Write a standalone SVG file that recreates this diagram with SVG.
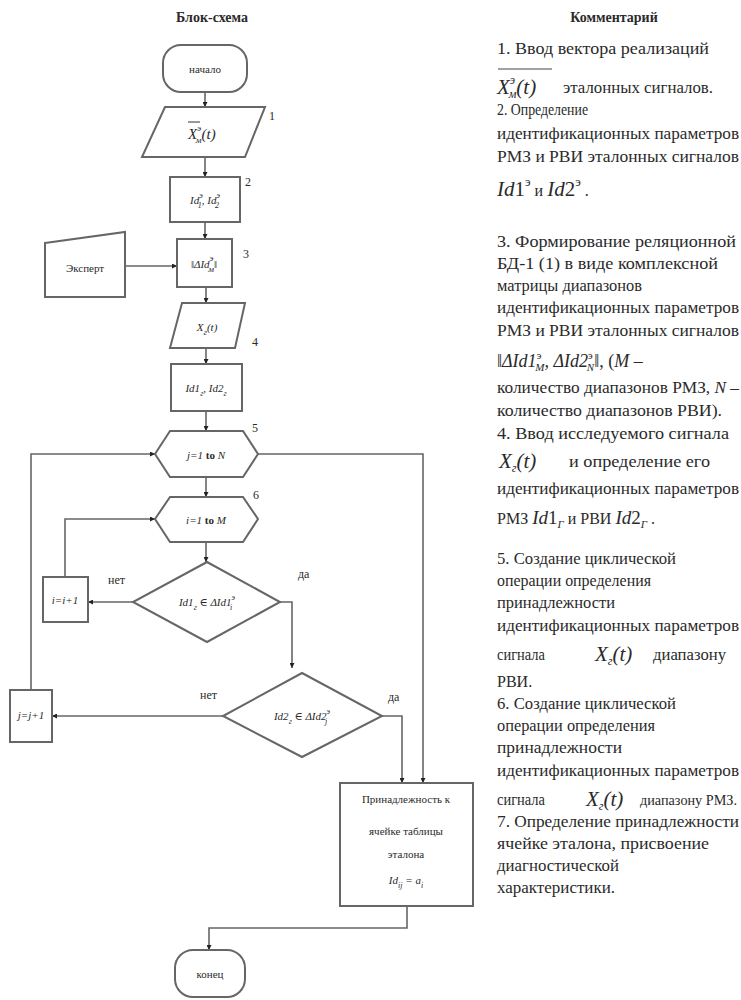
<svg xmlns="http://www.w3.org/2000/svg" width="741" height="1000" viewBox="0 0 741 1000">
<defs>
<marker id="ah" viewBox="0 0 10 10" refX="10" refY="5" markerWidth="5" markerHeight="5" orient="auto" markerUnits="userSpaceOnUse">
<path d="M0,0 L10,5 L0,10 z" fill="#222"/>
</marker>
<style>
.sh{fill:#fff;stroke:#666;stroke-width:2}
.ln{fill:none;stroke:#666;stroke-width:1.6}
text{font-family:"Liberation Serif","DejaVu Serif",serif;fill:#2a2a2a}
.f{font-size:11px;text-anchor:middle}
.m{font-style:italic}
.lbl{font-size:12px}
.c{font-size:16px}
.h{font-size:14px;font-weight:bold;text-anchor:middle}
</style>
</defs>
<rect width="741" height="1000" fill="#fff"/>

<text class="h" x="212" y="22">Блок-схема</text>
<text class="h" x="614" y="22">Комментарий</text>

<g id="connectors">
<line class="ln" x1="205" y1="92" x2="205" y2="107" marker-end="url(#ah)"/>
<line class="ln" x1="205" y1="157" x2="205" y2="177" marker-end="url(#ah)"/>
<line class="ln" x1="205" y1="222" x2="205" y2="239" marker-end="url(#ah)"/>
<line class="ln" x1="125" y1="266" x2="177" y2="266" stroke-width="2.5" marker-end="url(#ah)"/>
<line class="ln" x1="206" y1="287" x2="206" y2="303" marker-end="url(#ah)"/>
<line class="ln" x1="206" y1="348" x2="206" y2="364" marker-end="url(#ah)"/>
<line class="ln" x1="206" y1="411" x2="206" y2="431" marker-end="url(#ah)"/>
<line class="ln" x1="206" y1="477" x2="206" y2="497" marker-end="url(#ah)"/>
<line class="ln" x1="206" y1="542" x2="206" y2="562" marker-end="url(#ah)"/>
<line class="ln" x1="133" y1="602" x2="88" y2="602" marker-end="url(#ah)"/>
<polyline class="ln" points="65,577 65,519 155,519" marker-end="url(#ah)"/>
<polyline class="ln" points="280,602 292,602 292,668" marker-end="url(#ah)"/>
<line class="ln" x1="223" y1="716" x2="52" y2="716" marker-end="url(#ah)"/>
<polyline class="ln" points="31,690 31,454 155,454" marker-end="url(#ah)"/>
<polyline class="ln" points="258,454 423,454 423,783" marker-end="url(#ah)"/>
<polyline class="ln" points="382,716 402,716 402,783" marker-end="url(#ah)"/>
<polyline class="ln" points="407,906 407,928 209,928 209,950" marker-end="url(#ah)"/>
<text class="lbl" x="108" y="584">нет</text>
<text class="lbl" x="298" y="578">да</text>
<text class="lbl" x="200" y="699">нет</text>
<text class="lbl" x="388" y="701">да</text>
</g>

<g id="start">
<rect class="sh" x="163" y="45" width="84" height="47" rx="18"/>
<text class="f" x="205" y="73">начало</text>
</g>

<g id="n1">
<polygon class="sh" points="165,107 265,107 245,157 142,157"/>
<line x1="188" y1="122" x2="200" y2="122" stroke="#333" stroke-width="1"/>
<text class="m" x="188" y="139" font-size="15">X<tspan font-size="9" dy="-8">э</tspan><tspan font-size="9" dx="-5" dy="12">м</tspan><tspan dy="-4">(t)</tspan></text>
<text class="lbl" x="269" y="120">1</text>
</g>

<g id="n2">
<rect class="sh" x="170" y="177" width="70" height="45"/>
<text class="f m" x="205" y="204" font-size="12">Id<tspan font-size="8" dy="-6">э</tspan><tspan font-size="8" dx="-5" dy="10">1</tspan><tspan dy="-4">, Id</tspan><tspan font-size="8" dy="-6">э</tspan><tspan font-size="8" dx="-5" dy="10">2</tspan></text>
<text class="lbl" x="245" y="186">2</text>
</g>

<g id="expert">
<polygon class="sh" points="45,243 125,232 125,297 45,297"/>
<text class="f" x="85" y="272">Эксперт</text>
</g>

<g id="n3">
<rect class="sh" x="177" y="239" width="55" height="48"/>
<text class="f m" x="204" y="268" font-size="14">‖ΔId<tspan font-size="9" dy="-7">э</tspan><tspan font-size="9" dx="-5" dy="11">м</tspan><tspan dy="-4">‖</tspan></text>
<text class="lbl" x="243" y="258">3</text>
</g>

<g id="n4">
<polygon class="sh" points="182,303 245,303 235,348 170,348"/>
<text class="f m" x="207" y="331" font-size="14">X<tspan font-size="9" dy="4">г</tspan><tspan dy="-4">(t)</tspan></text>
<text class="lbl" x="252" y="346">4</text>
</g>

<g id="n4b">
<rect class="sh" x="171" y="364" width="71" height="47"/>
<text class="f m" x="206" y="392" font-size="12">Id1<tspan font-size="8" dy="4">г</tspan><tspan dy="-4">, Id2</tspan><tspan font-size="8" dy="4">г</tspan></text>
</g>

<g id="n5">
<polygon class="sh" points="155,454 170,431 243,431 258,454 243,477 170,477"/>
<text class="f m" x="206" y="459" font-size="13">j=1 <tspan font-weight="bold" font-style="normal">to</tspan> N</text>
<text class="lbl" x="252" y="432">5</text>
</g>

<g id="n6">
<polygon class="sh" points="155,519 170,497 243,497 258,519 243,542 170,542"/>
<text class="f m" x="206" y="524" font-size="13">i=1 <tspan font-weight="bold" font-style="normal">to</tspan> M</text>
<text class="lbl" x="253" y="499">6</text>
</g>

<g id="d2a">
<polygon class="sh" points="207,562 280,602 207,642 133,602"/>
<text class="f m" x="207" y="606">Id1<tspan font-size="8" dy="4">г</tspan><tspan dy="-4"> ∈ ΔId1</tspan><tspan font-size="8" dy="-6">э</tspan><tspan font-size="8" dx="-5" dy="10">i</tspan></text>
</g>

<g id="inc-i">
<rect class="sh" x="43" y="577" width="45" height="45"/>
<text class="f m" x="65" y="604">i=i+1</text>
</g>

<g id="d2b">
<polygon class="sh" points="302,673 382,716 302,757 223,716"/>
<text class="f m" x="302" y="720">Id2<tspan font-size="8" dy="4">г</tspan><tspan dy="-4"> ∈ ΔId2</tspan><tspan font-size="8" dy="-6">э</tspan><tspan font-size="8" dx="-5" dy="10">j</tspan></text>
</g>

<g id="inc-j">
<rect class="sh" x="10" y="690" width="42" height="52"/>
<text class="f m" x="31" y="719">j=j+1</text>
</g>

<g id="n7">
<rect class="sh" x="340" y="783" width="133" height="123"/>
<text class="f" x="406" y="803">Принадлежность к</text>
<text class="f" x="406" y="835">ячейке таблицы</text>
<text class="f" x="406" y="858">эталона</text>
<text class="f m" x="406" y="884" font-size="12">Id<tspan font-size="8" dy="4">ij</tspan><tspan dy="-4"> = a</tspan><tspan font-size="8" dy="4">i</tspan></text>
</g>

<g id="end">
<rect class="sh" x="175" y="950" width="70" height="47" rx="18"/>
<text class="f" x="210" y="978">конец</text>
</g>

<g id="comments">
<text class="c" x="497" y="54" textLength="212" lengthAdjust="spacingAndGlyphs">1. Ввод вектора реализаций</text>
<line x1="498" y1="69" x2="552" y2="69" stroke="#444" stroke-width="1.2"/>
<text x="497" y="94" class="m" font-size="21">X<tspan font-size="12" dy="-10">э</tspan><tspan font-size="12" dx="-6" dy="14">м</tspan><tspan dy="-4">(t)</tspan></text>
<text class="c" x="563" y="93" textLength="150" lengthAdjust="spacingAndGlyphs">эталонных сигналов.</text>
<text class="c" x="497" y="115" textLength="91" lengthAdjust="spacingAndGlyphs">2. Определение</text>
<text class="c" x="497" y="139" textLength="242" lengthAdjust="spacingAndGlyphs">идентификационных параметров</text>
<text class="c" x="497" y="162" textLength="242" lengthAdjust="spacingAndGlyphs">РМЗ и РВИ эталонных сигналов</text>
<text x="497" y="196" font-size="21"><tspan class="m">Id</tspan>1<tspan font-size="13" dy="-10">э</tspan><tspan dy="10" font-size="16"> и </tspan><tspan class="m">Id</tspan>2<tspan font-size="13" dy="-10">э</tspan><tspan dy="10" font-size="16"> .</tspan></text>
<text class="c" x="497" y="247" textLength="239" lengthAdjust="spacingAndGlyphs">3. Формирование реляционной</text>
<text class="c" x="497" y="269" textLength="221" lengthAdjust="spacingAndGlyphs">БД-1 (1) в виде комплексной</text>
<text class="c" x="497" y="291" textLength="145" lengthAdjust="spacingAndGlyphs">матрицы диапазонов</text>
<text class="c" x="497" y="313" textLength="242" lengthAdjust="spacingAndGlyphs">идентификационных параметров</text>
<text class="c" x="497" y="336" textLength="242" lengthAdjust="spacingAndGlyphs">РМЗ и РВИ эталонных сигналов</text>
<text x="497" y="367" font-size="18"><tspan class="m">‖ΔId1</tspan><tspan font-size="11" dy="-8">э</tspan><tspan font-size="11" dx="-6" dy="12" class="m">M</tspan><tspan dy="-4" class="m">, ΔId2</tspan><tspan font-size="11" dy="-8">э</tspan><tspan font-size="11" dx="-6" dy="12" class="m">N</tspan><tspan dy="-4">‖, (</tspan><tspan class="m">M</tspan> –</text>
<text class="c" x="497" y="393" textLength="242" lengthAdjust="spacingAndGlyphs">количество диапазонов РМЗ, <tspan class="m">N</tspan> –</text>
<text class="c" x="497" y="416" textLength="225" lengthAdjust="spacingAndGlyphs">количество диапазонов РВИ).</text>
<text class="c" x="497" y="439" textLength="232" lengthAdjust="spacingAndGlyphs">4. Ввод исследуемого сигнала</text>
<text x="499" y="468" class="m" font-size="21">X<tspan font-size="12" dy="4">г</tspan><tspan dy="-4">(t)</tspan></text>
<text class="c" x="569" y="467" textLength="141" lengthAdjust="spacingAndGlyphs">и определение его</text>
<text class="c" x="497" y="494" textLength="242" lengthAdjust="spacingAndGlyphs">идентификационных параметров</text>
<text class="c" x="497" y="524">РМЗ <tspan class="m" font-size="19">Id</tspan><tspan font-size="19">1</tspan><tspan font-size="11" dy="4" class="m">Г</tspan><tspan dy="-4"> и РВИ </tspan><tspan class="m" font-size="19">Id</tspan><tspan font-size="19">2</tspan><tspan font-size="11" dy="4" class="m">Г</tspan><tspan dy="-4"> .</tspan></text>
<text class="c" x="497" y="564" textLength="179" lengthAdjust="spacingAndGlyphs">5. Создание циклической</text>
<text class="c" x="497" y="586" textLength="154" lengthAdjust="spacingAndGlyphs">операции определения</text>
<text class="c" x="497" y="608" textLength="118" lengthAdjust="spacingAndGlyphs">принадлежности</text>
<text class="c" x="497" y="631" textLength="242" lengthAdjust="spacingAndGlyphs">идентификационных параметров</text>
<text class="c" x="497" y="660" textLength="48" lengthAdjust="spacingAndGlyphs">сигнала</text>
<text x="595" y="661" class="m" font-size="21">X<tspan font-size="12" dy="4">г</tspan><tspan dy="-4">(t)</tspan></text>
<text class="c" x="653" y="660" textLength="73" lengthAdjust="spacingAndGlyphs">диапазону</text>
<text class="c" x="497" y="687">РВИ.</text>
<text class="c" x="497" y="709" textLength="179" lengthAdjust="spacingAndGlyphs">6. Создание циклической</text>
<text class="c" x="497" y="731" textLength="158" lengthAdjust="spacingAndGlyphs">операции определения</text>
<text class="c" x="497" y="753" textLength="125" lengthAdjust="spacingAndGlyphs">принадлежности</text>
<text class="c" x="497" y="776" textLength="242" lengthAdjust="spacingAndGlyphs">идентификационных параметров</text>
<text class="c" x="497" y="805" textLength="48" lengthAdjust="spacingAndGlyphs">сигнала</text>
<text x="586" y="806" class="m" font-size="21">X<tspan font-size="12" dy="4">г</tspan><tspan dy="-4">(t)</tspan></text>
<text x="640" y="805" font-size="14" textLength="97" lengthAdjust="spacingAndGlyphs">диапазону РМЗ.</text>
<text class="c" x="497" y="827" textLength="242" lengthAdjust="spacingAndGlyphs">7. Определение принадлежности</text>
<text class="c" x="497" y="849" textLength="212" lengthAdjust="spacingAndGlyphs">ячейке эталона, присвоение</text>
<text class="c" x="497" y="871" textLength="122" lengthAdjust="spacingAndGlyphs">диагностической</text>
<text class="c" x="497" y="893" textLength="118" lengthAdjust="spacingAndGlyphs">характеристики.</text>
</g>
</svg>
